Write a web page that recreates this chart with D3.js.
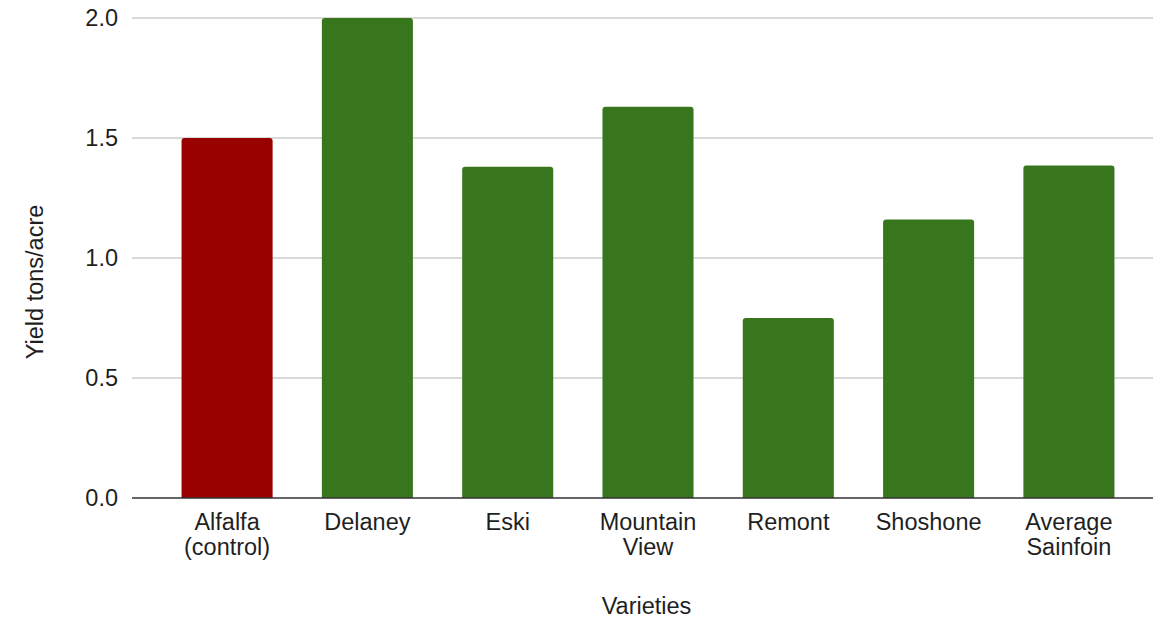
<!DOCTYPE html>
<html>
<head>
<meta charset="utf-8">
<script src="https://cdn.jsdelivr.net/npm/d3@7"></script>
<style>
  html, body { margin: 0; padding: 0; background: #fff; }
  svg { display: block; }
  text { font-family: "Liberation Sans", Arial, sans-serif; fill: #1f1f1f; }
</style>
</head>
<body>
<svg id="chart" width="1153" height="619"></svg>
<script>
// Forage yield by variety
const categories = ["Alfalfa\n(control)", "Delaney", "Eski", "Mountain\nView", "Remont", "Shoshone", "Average\nSainfoin"];
const yieldValues = [1.5, 2.0, 1.38, 1.63, 0.75, 1.16, 1.385];
const barColors = ["#990000", "#38761d", "#38761d", "#38761d", "#38761d", "#38761d", "#38761d"];
const yTicks = [0, 0.5, 1.0, 1.5, 2.0];
const yTitle = "Yield tons/acre";
const xTitle = "Varieties";

const W = 1153, H = 619;
const svg = d3.select("#chart");
const fontSize = 23.5;

const plotLeft = 132, plotRight = W;
const y = d3.scaleLinear().domain([0, 2]).range([498, 18]);
const x = d3.scaleBand().domain(categories).range([157, 1139]).paddingInner(0.351).paddingOuter(0.175);

// horizontal gridlines
svg.append("g")
  .selectAll("line")
  .data(yTicks.filter(d => d !== 0))
  .join("line")
  .attr("x1", plotLeft).attr("x2", plotRight)
  .attr("y1", d => y(d)).attr("y2", d => y(d))
  .attr("stroke", "#cccccc").attr("stroke-width", 1.5);

// y tick labels
svg.append("g")
  .selectAll("text")
  .data(yTicks)
  .join("text")
  .attr("x", 118)
  .attr("y", d => y(d))
  .attr("dy", "0.36em")
  .attr("text-anchor", "end")
  .style("font-size", fontSize + "px")
  .text(d => d3.format(".1f")(d));

// bars with rounded top corners
const r = 3;
svg.append("g")
  .selectAll("path")
  .data(categories.map((c, i) => ({ c, v: yieldValues[i], color: barColors[i] })))
  .join("path")
  .attr("fill", d => d.color)
  .attr("d", d => {
    const x0 = x(d.c), x1 = x0 + x.bandwidth();
    const yt = y(d.v), yb = y(0);
    return `M${x0},${yb} L${x0},${yt + r} Q${x0},${yt} ${x0 + r},${yt} L${x1 - r},${yt} Q${x1},${yt} ${x1},${yt + r} L${x1},${yb} Z`;
  });

// baseline axis
svg.append("line")
  .attr("x1", plotLeft).attr("x2", plotRight)
  .attr("y1", y(0)).attr("y2", y(0))
  .attr("stroke", "#333333").attr("stroke-width", 1.5);

// category labels (multi-line)
const xl = svg.append("g")
  .selectAll("text")
  .data(categories)
  .join("text")
  .attr("text-anchor", "middle")
  .style("font-size", fontSize + "px")
  .attr("x", d => x(d) + x.bandwidth() / 2)
  .attr("y", 530);
xl.each(function(d) {
  const t = d3.select(this);
  d.split("\n").forEach((line, i) => {
    t.append("tspan")
      .attr("x", x(d) + x.bandwidth() / 2)
      .attr("dy", i === 0 ? 0 : 25)
      .text(line);
  });
});

// axis titles
svg.append("text")
  .attr("x", (plotLeft + W) / 2 + 4)
  .attr("y", 614)
  .attr("text-anchor", "middle")
  .style("font-size", fontSize + "px")
  .text(xTitle);

svg.append("text")
  .attr("transform", "translate(43,282) rotate(-90)")
  .attr("text-anchor", "middle")
  .style("font-size", fontSize + "px")
  .text(yTitle);
</script>
</body>
</html>
